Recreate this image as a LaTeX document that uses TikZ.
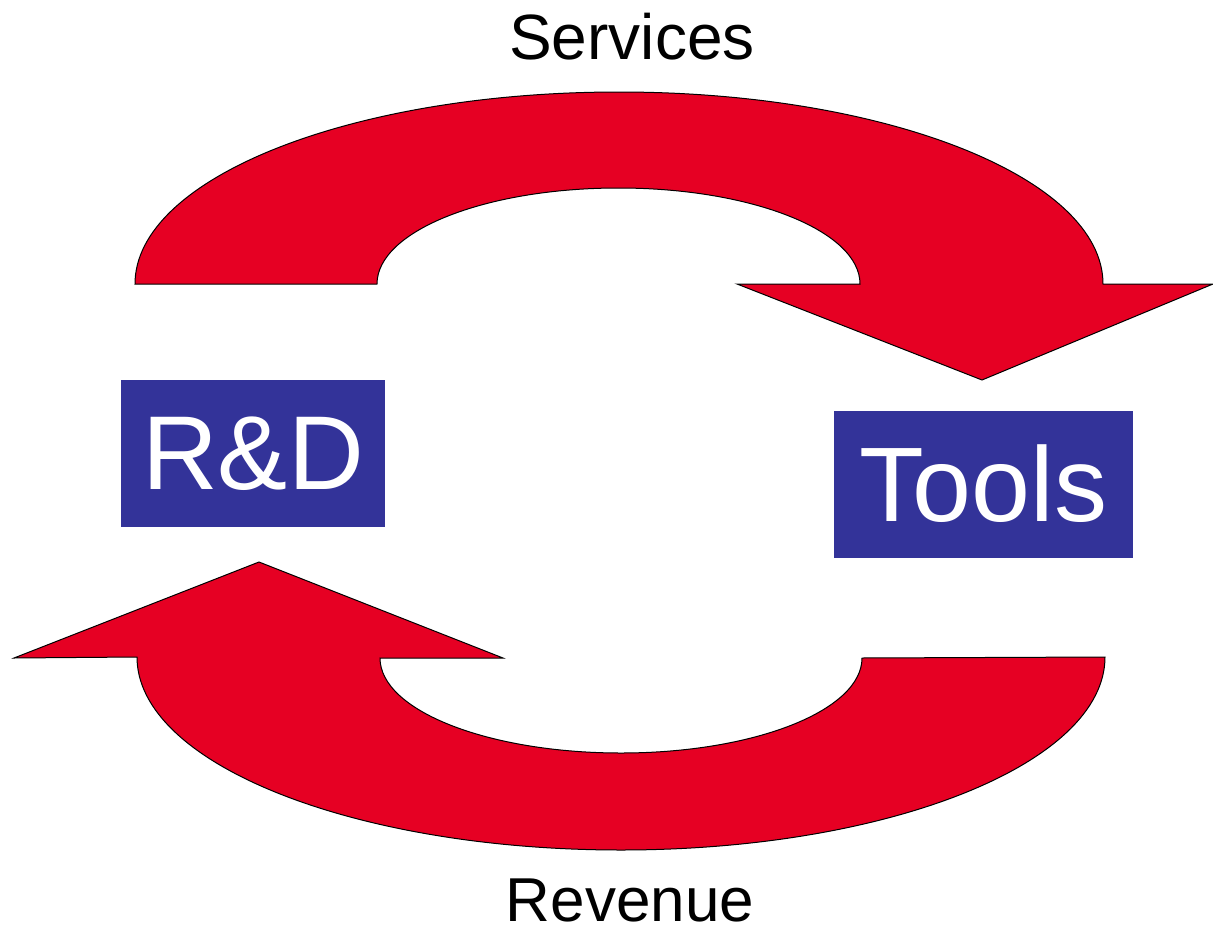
\documentclass[tikz,border=0pt]{standalone}
\usepackage{fontspec}
\setmainfont{Liberation Sans}
\definecolor{flowred}{HTML}{E60023}
\definecolor{boxblue}{HTML}{333399}
\tikzset{
  flow/.style={fill=flowred, draw=black, line width=1pt, line join=miter},
  bluebox/.style={fill=boxblue, draw=none, text=white, inner sep=0pt, anchor=center},
  label/.style={text=black, inner sep=0pt, anchor=center}
}
\begin{document}
\begin{tikzpicture}[x=1pt,y=-1pt]
\useasboundingbox (0,0) rectangle (1213,934);
% top arrow (Services)
\draw[flow] (135,284) arc[start angle=180, end angle=360, x radius=484, y radius=192]
  -- (1213,284) -- (982,380) -- (737,284) -- (860,284)
  arc[start angle=0, end angle=-180, x radius=241.5, y radius=96] -- cycle;
% bottom arrow (Revenue)
\draw[flow] (1105,657) arc[start angle=0, end angle=180, x radius=484, y radius=193]
  -- (14,658) -- (259,562) -- (503,658) -- (380,658)
  arc[start angle=180, end angle=0, x radius=241, y radius=95] -- cycle;
% boxes
\node[bluebox, minimum width=264, minimum height=147, font=\fontsize{105}{105}\selectfont] (rd) at (253,453.5) {R\&D};
\node[bluebox, minimum width=299, minimum height=147, font=\fontsize{106}{106}\selectfont] (tools) at (983.5,484) {Tools};
% labels
\node[label, font=\fontsize{64}{64}\selectfont] (services) at (632,37) {Services};
\node[label, anchor=base, text depth=0pt, font=\fontsize{62}{62}\selectfont] (revenue) at (630,921) {Revenue};
\end{tikzpicture}
\end{document}
